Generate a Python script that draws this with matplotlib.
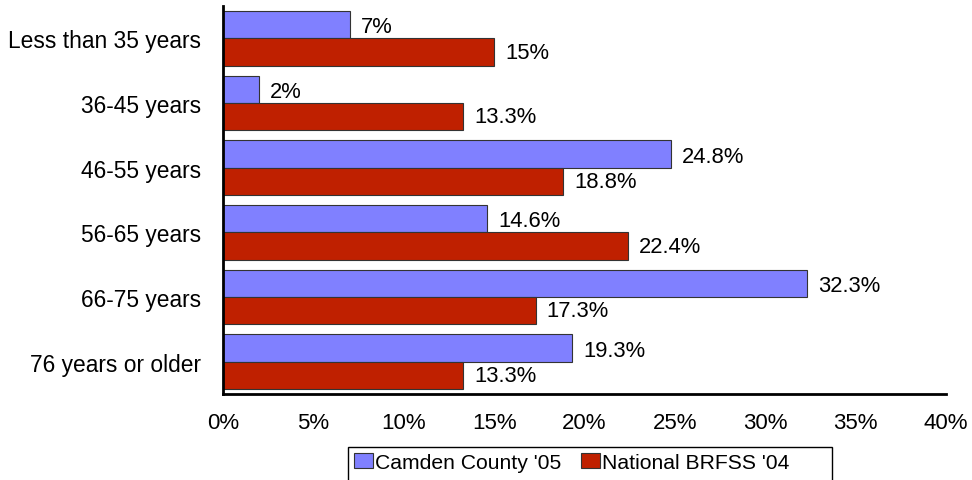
import matplotlib
matplotlib.use("Agg")
import matplotlib.pyplot as plt
from matplotlib.patches import Rectangle
import numpy as np

plt.rcParams['font.family'] = ['Liberation Sans', 'DejaVu Sans']

categories = ["Less than 35 years", "36-45 years", "46-55 years",
              "56-65 years", "66-75 years", "76 years or older"]
camden = [7, 2, 24.8, 14.6, 32.3, 19.3]
national = [15, 13.3, 18.8, 22.4, 17.3, 13.3]
series_names = ["Camden County '05", "National BRFSS '04"]
xticks = [0, 5, 10, 15, 20, 25, 30, 35, 40]

c_purple = "#8080FF"
c_red = "#BF2000"

W, H = 972, 481
fig = plt.figure(figsize=(W/100, H/100), dpi=100)
ax = fig.add_axes([223/W, 1-395/H, (946-223)/W, (395-7)/H])

y = np.arange(len(categories))
h = 0.425
b1 = ax.barh(y - h/2, camden, height=h, color=c_purple, edgecolor="#333333",
             linewidth=0.8, label=series_names[0])
b2 = ax.barh(y + h/2, national, height=h, color=c_red, edgecolor="#333333",
             linewidth=0.8, label=series_names[1])

for yi, v in zip(y, camden):
    ax.annotate(f"{v:g}%", xy=(v, yi - h/2), xytext=(8, -1.5),
                textcoords="offset points", va="center", ha="left", fontsize=15.8)
for yi, v in zip(y, national):
    ax.annotate(f"{v:g}%", xy=(v, yi + h/2), xytext=(8, 0),
                textcoords="offset points", va="center", ha="left", fontsize=15.8)

ax.set_ylim(len(categories) - 0.5, -0.5)
ax.set_xlim(0, 40)
ax.set_yticks(y)
ax.set_yticklabels(categories, fontsize=16.4)
ax.set_xticks(xticks)
ax.set_xticklabels([f"{t}%" for t in xticks], fontsize=16)
ax.tick_params(axis="y", length=0, pad=16)
ax.tick_params(axis="x", length=0, pad=13)
for s in ["top", "right"]:
    ax.spines[s].set_visible(False)
for s in ["left", "bottom"]:
    ax.spines[s].set_linewidth(2)
    ax.spines[s].set_color("black")

leg = fig.legend(handles=[b1, b2], labels=series_names, ncol=2,
                 loc="upper left", bbox_to_anchor=(350/W, 1-450/H),
                 fontsize=15.2, frameon=False,
                 handlelength=0.9, handleheight=0.7, handletextpad=0.1,
                 columnspacing=0.9, borderpad=0.2, borderaxespad=0)

fig.patches.append(Rectangle((348/W, 1-492/H), (832-348)/W, 44/H,
                             transform=fig.transFigure, fill=False,
                             edgecolor="black", linewidth=1))

fig.savefig("out.png", dpi=100)
